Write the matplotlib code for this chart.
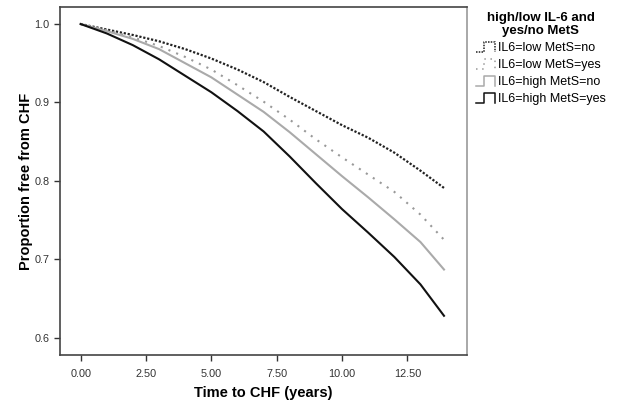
import matplotlib
matplotlib.use('Agg')
import matplotlib.pyplot as plt
from matplotlib.legend_handler import HandlerLine2D
from matplotlib.lines import Line2D

plt.rcParams['font.family'] = ['Liberation Sans', 'DejaVu Sans']

# Kaplan-Meier style curves
years = [0, 1, 2, 3, 4, 5, 6, 7, 8, 9, 10, 11, 12, 13, 13.9]

low_no = [1.0, 0.993, 0.986, 0.978, 0.968, 0.956, 0.942, 0.926,
          0.907, 0.889, 0.871, 0.855, 0.836, 0.813, 0.791]
low_yes = [1.0, 0.992, 0.983, 0.972, 0.958, 0.942, 0.922, 0.901,
           0.878, 0.853, 0.830, 0.808, 0.786, 0.757, 0.725]
high_no = [1.0, 0.991, 0.981, 0.968, 0.950, 0.932, 0.910, 0.888,
           0.862, 0.834, 0.806, 0.779, 0.751, 0.722, 0.687]
high_yes = [1.0, 0.988, 0.973, 0.955, 0.934, 0.913, 0.889, 0.863,
            0.831, 0.797, 0.764, 0.734, 0.703, 0.668, 0.628]

labels = ['IL6=low MetS=no', 'IL6=low MetS=yes', 'IL6=high MetS=no', 'IL6=high MetS=yes']


class StepHandler(HandlerLine2D):
    # legend glyph shaped like a survival step: __|"|
    def create_artists(self, legend, orig_handle, xdescent, ydescent,
                       width, height, fontsize, trans):
        x0 = -xdescent
        xs = [x0, x0 + width * 0.45, x0 + width * 0.45, x0 + width, x0 + width]
        ys = [0, 0, height * 1.2, height * 1.2, 0]
        ys = [y - ydescent - height * 0.1 for y in ys]
        line = Line2D(xs, ys)
        self.update_prop(line, orig_handle, legend)
        line.set_linewidth(1.1)
        line.set_transform(trans)
        return [line]


fig = plt.figure(figsize=(6.26, 4.05), dpi=100)
ax = fig.add_axes([60 / 626, 50 / 405, 407 / 626, 348 / 405])

l1, = ax.plot(years, low_no, color='#222222', lw=1.6, linestyle=(0, (1, 0.8)), label=labels[0])
l2, = ax.plot(years, low_yes, color='#999999', lw=1.5, linestyle=(0, (1, 3)), label=labels[1])
l3, = ax.plot(years, high_no, color='#aaaaaa', lw=1.5, label=labels[2])
l4, = ax.plot(years, high_yes, color='#111111', lw=1.5, label=labels[3])

ax.set_xlim(-0.79, 14.78)
ax.set_ylim(0.578, 1.0217)
ax.set_xticks([0, 2.5, 5, 7.5, 10, 12.5])
ax.set_xticklabels(['0.00', '2.50', '5.00', '7.50', '10.00', '12.50'])
ax.set_yticks([0.6, 0.7, 0.8, 0.9, 1.0])
ax.tick_params(labelsize=7.8, colors='#333333', length=4, width=1)
ax.tick_params(axis='x', pad=6)
for s in ax.spines.values():
    s.set_color('#444444')
    s.set_linewidth(1.2)
ax.spines['right'].set_color('#999999')

ax.set_xlabel('Time to CHF (years)', fontsize=10.5, fontweight='bold', labelpad=5)
ax.set_ylabel('Proportion free from CHF', fontsize=10.5, fontweight='bold', labelpad=1)

handler = StepHandler()
leg = fig.legend(handles=[l1, l2, l3, l4], loc='upper left',
                 bbox_to_anchor=(467 / 626, 0.993), frameon=False,
                 fontsize=9, title='high/low IL-6 and\nyes/no MetS',
                 title_fontproperties={'weight': 'bold', 'size': 9.5},
                 handlelength=1.5, handletextpad=0.25, labelspacing=0.4,
                 borderaxespad=0.3,
                 handler_map={l: handler for l in [l1, l2, l3, l4]})
leg.get_title().set_multialignment('center')

fig.savefig('out.png', dpi=100)
